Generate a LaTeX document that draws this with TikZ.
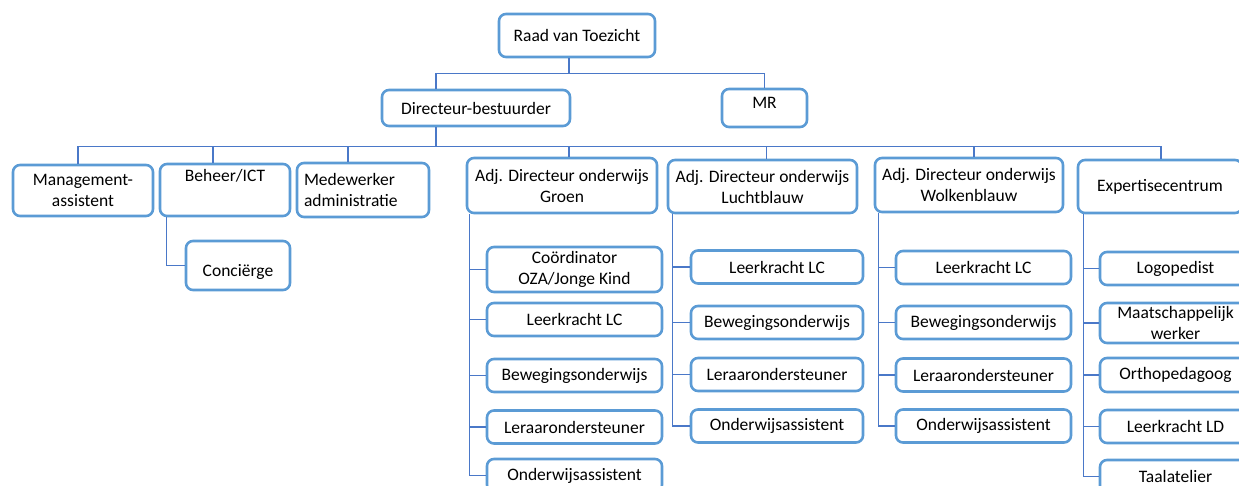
\documentclass[tikz,border=0pt]{standalone}
\usepackage{fontspec}
\setmainfont{Carlito}
\usepackage{tikz}

\definecolor{boxblue}{RGB}{91,155,213}
\definecolor{linkblue}{RGB}{74,120,200}

\begin{document}
\begin{tikzpicture}[x=1pt, y=-1pt,
		every node/.style={font=\fontsize{17.5}{21}\selectfont},
		box/.style={draw=boxblue, line width=2.6pt, rounded corners=7pt, fill=white, align=center, inner sep=0pt},
		link/.style={draw=linkblue, line width=1.3pt}]
	\useasboundingbox (0,0) rectangle (1239,486);
	\clip (0,0) rectangle (1239,486);

	\node[box, minimum width=156pt, minimum height=43pt] (raad) at (577,35.5) {Raad van Toezicht};
	\node[box, minimum width=188pt, minimum height=36pt] (dir) at (476,108) {Directeur-bestuurder};
	\node[box, minimum width=85pt, minimum height=38pt] (mr) at (764.5,108) {MR\\[-10pt]\mbox{}};

	\draw[link] ([xshift=-8pt]raad.south) -- ++(0,15) coordinate (topbus);
	\draw[link] (topbus) -| ([xshift=-40pt]dir.north);
	\draw[link] (topbus) -| (mr.north);

	\node[box, minimum width=140pt, minimum height=51pt] (mgmt) at (83,190.5) {Management-\\assistent};
	\node[box, minimum width=130pt, minimum height=52pt] (beheer) at (225,190) {Beheer/ICT\\[8pt]\mbox{}};
	\node[box, minimum width=132pt, minimum height=54pt, text width=118pt, align=left] (medew) at (363,190) {Medewerker\\administratie};
	\node[box, minimum width=190pt, minimum height=55pt] (groen) at (562,185.5) {Adj. Directeur onderwijs\\Groen};
	\node[box, minimum width=189pt, minimum height=53pt] (lucht) at (762.5,186.5) {Adj. Directeur onderwijs\\Luchtblauw};
	\node[box, minimum width=188pt, minimum height=54pt] (wolk) at (969,185) {Adj. Directeur onderwijs\\Wolkenblauw};
	\node[box, minimum width=164pt, minimum height=53pt] (expert) at (1160,186.5) {Expertisecentrum};

	\draw[link] ([xshift=-40pt]dir.south) -- ++(0,19.5) coordinate (midbus);
	\foreach \n/\dx in {mgmt/-5,beheer/-12,medew/-15,groen/7,lucht/4,wolk/5,expert/1} {
		\draw[link] (midbus) -| ([xshift=\dx pt]\n.north);
	}

	\node[box, minimum width=104pt, minimum height=49pt] (conc) at (238,265.5) {\mbox{}\\[4pt]Conciërge};
	\draw[link] ([xshift=8pt]beheer.south west) |- (conc.west);

	\foreach[count=\j] \gy/\gh/\gt in {269.5/45/{Coördinator\\OZA/Jonge Kind},319.5/33/Leerkracht LC,375.5/33/Bewegingsonderwijs,427/33/Leraarondersteuner,475.5/33/Onderwijsassistent} {
		\node[box, minimum width=175pt, minimum height=\gh pt] (g-\j) at (574.5,\gy) {\gt};
		\draw[link] ([xshift=4pt]groen.south west) |- (g-\j.west);
	}
	\foreach[count=\j] \ly/\lt in {267/Leerkracht LC,322.5/Bewegingsonderwijs,374.5/Leraarondersteuner,426/Onderwijsassistent} {
		\node[box, minimum width=172pt, minimum height=33pt] (l-\j) at (777,\ly) {\lt};
		\draw[link] ([xshift=6pt]lucht.south west) |- (l-\j.west);
	}
	\foreach[count=\j] \wy/\wt in {267.5/Leerkracht LC,322.5/Bewegingsonderwijs,375/Leraarondersteuner,426/Onderwijsassistent} {
		\node[box, minimum width=175pt, minimum height=33pt] (w-\j) at (983.5,\wy) {\wt};
		\draw[link] ([xshift=5pt]wolk.south west) |- (w-\j.west);
	}
	\foreach[count=\j] \ey/\eh/\et in {268.5/33/Logopedist,323/40/{Maatschappelijk\\werker},375/34/Orthopedagoog,426.5/33/Leerkracht LD,476.5/33/Taalatelier} {
		\node[box, minimum width=151pt, minimum height=\eh pt] (e-\j) at (1175.5,\ey) {\et};
		\draw[link] ([xshift=7pt]expert.south west) |- (e-\j.west);
	}
\end{tikzpicture}
\end{document}
